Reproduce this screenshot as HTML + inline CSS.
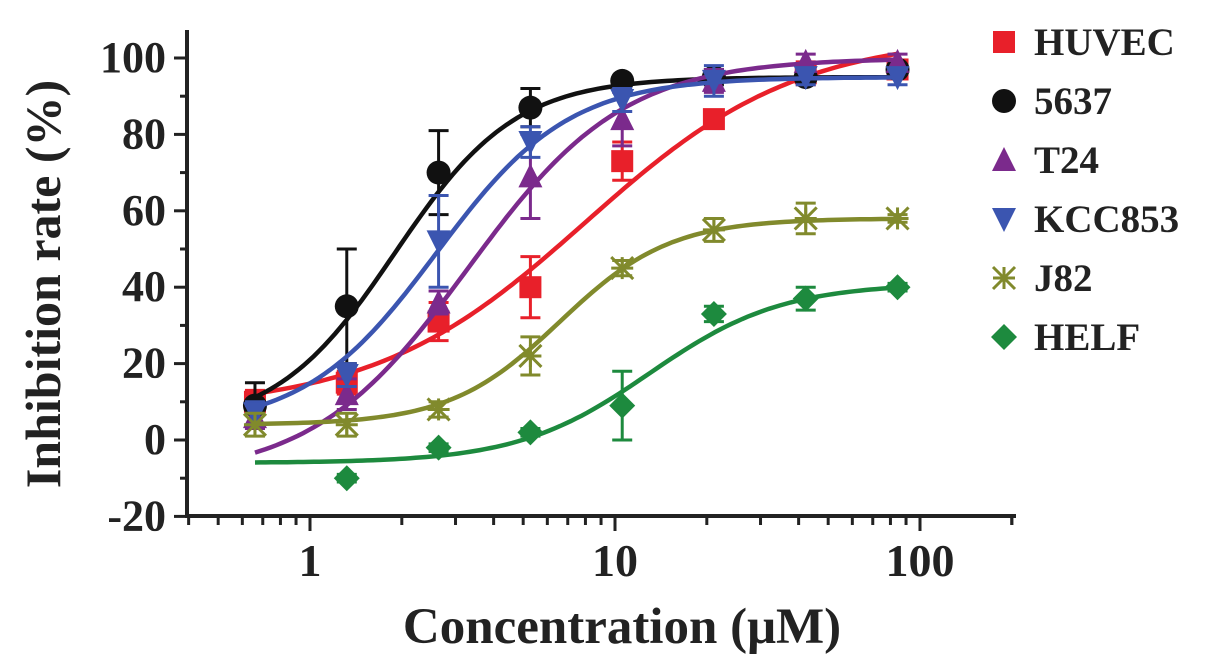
<!DOCTYPE html>
<html><head><meta charset="utf-8"><style>
html,body{margin:0;padding:0;background:#fff;width:1205px;height:670px;overflow:hidden}
svg text{font-family:"Liberation Serif",serif;font-weight:bold;fill:#222}
</style></head><body>
<svg id="chart" width="1205" height="670" viewBox="0 0 1205 670" xmlns="http://www.w3.org/2000/svg"></svg>
<script>
const concentrations = [0.66, 1.32, 2.64, 5.28, 10.56, 21.1, 42.2, 84.4];
const seriesNames = ["HUVEC", "5637", "T24", "KCC853", "J82", "HELF"];
const huvecValues = [10, 15, 31, 40, 73, 84, 96, 97];
const huvecErr = [3, 3, 5, 8, 5, 2, 3, 2];
const c5637Values = [9, 35, 70, 87, 94, 95, 95, 97];
const c5637Err = [6, 15, 11, 5, 1, 2, 1, 1];
const t24Values = [6, 12, 36, 69, 84, 94, 99, 99];
const t24Err = [3, 4, 3, 11, 7, 3, 2, 2];
const kcc853Values = [7, 17, 52, 78, 89, 94, 95, 95];
const kcc853Err = [3, 3, 12, 4, 3, 4, 2, 2];
const j82Values = [4, 4, 8, 22, 45, 55, 58, 58];
const j82Err = [3, 3, 2, 5, 2, 3, 4, 1];
const helfValues = [null, -10, -2, 2, 9, 33, 37, 40];
const helfErr = [0, 1, 1, 1, 9, 2, 3, 1];
// 4-parameter logistic fit parameters per series
const fitBottom = [8, 3, -10, 3, 4, -6];
const fitTop = [106, 95, 100, 95, 58, 41];
const fitEC50 = [8, 1.9, 3.3, 2.6, 6.6, 13];
const fitHill = [1.25, 2.2, 1.7, 2, 2.4, 2];
const yTicks = [-20, 0, 20, 40, 60, 80, 100];
const xTickLabels = [1, 10, 100];

const colors = ["#e8202a", "#111111", "#7b2a8c", "#3b55b0", "#818a2c", "#1d8a3e"];
const markers = ["square", "circle", "up", "down", "star", "diamond"];
const allVals = [huvecValues, c5637Values, t24Values, kcc853Values, j82Values, helfValues];
const allErr = [huvecErr, c5637Err, t24Err, kcc853Err, j82Err, helfErr];

const XDEC = 305;
const xs = v => 310 + XDEC * Math.log10(v);
const ys = v => 440 - (v) * 3.82;
const NS = "http://www.w3.org/2000/svg";
const svg = document.getElementById("chart");
function mk(tag, attrs, parent) {
  const e = document.createElementNS(NS, tag);
  for (const k in attrs) e.setAttribute(k, attrs[k]);
  (parent || svg).appendChild(e);
  return e;
}
const axes = mk("g", {});


let yl = mk("line", {x1: 187, y1: 30, x2: 187, y2: 518, stroke: "#222", "stroke-width": 4}, axes);


let xl = mk("line", {x1: 185, y1: 516, x2: 1016, y2: 516, stroke: "#222", "stroke-width": 4}, axes);


for (let v = -20; v <= 100; v += 10) {
  const major = yTicks.includes(v);
  mk("line", {x1: major ? 174 : 180, y1: ys(v), x2: 187, y2: ys(v), stroke: "#222", "stroke-width": 3}, axes);
}
yTicks.forEach(v => {
  const t = mk("text", {x: 166, y: ys(v) + 14, "text-anchor": "end", "font-size": 44}, axes);
  t.textContent = v;
  
  
});
for (let d = 0.1; d < 200; d *= 10) {
  for (let m = 1; m < 10; m++) {
    const v = d * m;
    if (v < 0.399 || v > 200.1) continue;
    const major = m === 1;
    mk("line", {x1: xs(v), y1: 516, x2: xs(v), y2: major ? 531 : 525, stroke: "#222", "stroke-width": 3}, axes);
  }
}
mk("line", {x1: xs(200), y1: 516, x2: xs(200), y2: 525, stroke: "#222", "stroke-width": 3}, axes);
xTickLabels.forEach(v => {
  const t = mk("text", {x: xs(v), y: 576, "text-anchor": "middle", "font-size": 46}, axes);
  t.textContent = v;
  
  
});
const xt = mk("text", {x: 622, y: 643, "text-anchor": "middle", "font-size": 51});
xt.textContent = "Concentration (μM)";


const yt = mk("text", {x: 0, y: 0, "text-anchor": "middle", "font-size": 50, transform: "translate(60,284) rotate(-90)"});
yt.textContent = "Inhibition rate (%)";



function marker(type, cx, cy, color, parent, s) {
  s = s || 11;
  let e;
  if (type === "square") e = mk("rect", {x: cx - s, y: cy - s, width: 2 * s, height: 2 * s, fill: color}, parent);
  else if (type === "circle") e = mk("circle", {cx, cy, r: s + 1, fill: color}, parent);
  else if (type === "up") e = mk("polygon", {points: `${cx},${cy - s - 2} ${cx - s - 1},${cy + s} ${cx + s + 1},${cy + s}`, fill: color}, parent);
  else if (type === "down") e = mk("polygon", {points: `${cx},${cy + s + 2} ${cx - s - 1},${cy - s} ${cx + s + 1},${cy - s}`, fill: color}, parent);
  else if (type === "diamond") e = mk("polygon", {points: `${cx},${cy - s - 2} ${cx + s + 2},${cy} ${cx},${cy + s + 2} ${cx - s - 2},${cy}`, fill: color}, parent);
  else {
    e = mk("g", {stroke: color, "stroke-width": 3}, parent);
    mk("line", {x1: cx, y1: cy - s, x2: cx, y2: cy + s}, e);
    mk("line", {x1: cx - s, y1: cy - s, x2: cx + s, y2: cy + s}, e);
    mk("line", {x1: cx + s, y1: cy - s, x2: cx - s, y2: cy + s}, e);
    mk("line", {x1: cx - s, y1: cy, x2: cx + s, y2: cy}, e);
  }
  return e;
}
for (let i = 0; i < seriesNames.length; i++) {
  const g = mk("g", {});
  
  
  let d = "";
  const lo = Math.log10(concentrations[0]), hi = Math.log10(concentrations[concentrations.length - 1]);
  for (let k = 0; k <= 120; k++) {
    const c = Math.pow(10, lo + (hi - lo) * k / 120);
    const y = fitBottom[i] + (fitTop[i] - fitBottom[i]) / (1 + Math.pow(fitEC50[i] / c, fitHill[i]));
    d += (k ? "L" : "M") + xs(c).toFixed(1) + "," + ys(y).toFixed(1);
  }
  const p = mk("path", {d, fill: "none", stroke: colors[i], "stroke-width": 4.5}, g);
  
  
  concentrations.forEach((c, j) => {
    const v = allVals[i][j];
    if (v === null) return;
    const e = allErr[i][j];
    const x = xs(c);
    const eb = mk("g", {stroke: colors[i], "stroke-width": 3}, g);
    
    
    mk("line", {x1: x, y1: ys(v - e), x2: x, y2: ys(v + e)}, eb);
    mk("line", {x1: x - 10, y1: ys(v + e), x2: x + 10, y2: ys(v + e)}, eb);
    mk("line", {x1: x - 10, y1: ys(v - e), x2: x + 10, y2: ys(v - e)}, eb);
    const m = marker(markers[i], x, ys(v), colors[i], g);
    
    
  });
}
const lg = mk("g", {});


seriesNames.forEach((n, i) => {
  const y = 42 + i * 59;
  const e = mk("g", {}, lg);
  
  
  marker(markers[i], 1004, y, colors[i], e, 11);
  const t = mk("text", {x: 1034, y: y + 13, "font-size": 39}, e);
  t.textContent = n;
});
</script>
</body></html>
